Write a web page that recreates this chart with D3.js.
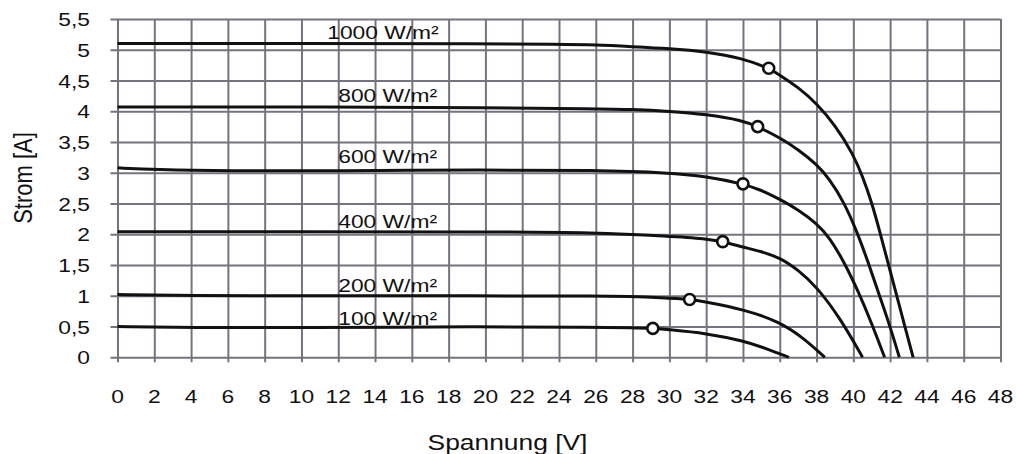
<!DOCTYPE html>
<html>
<head>
<meta charset="utf-8">
<script src="https://cdn.jsdelivr.net/npm/d3@7"></script>
<style>
  html, body { margin: 0; padding: 0; background: #fff; }
  svg { display: block; }
  text { font-family: "Liberation Sans", Arial, Helvetica, sans-serif; fill: #111; }
</style>
</head>
<body>
<svg id="chart" width="1016" height="454"></svg>
<script>
// ---------- data ----------
const xTicks = [0,2,4,6,8,10,12,14,16,18,20,22,24,26,28,30,32,34,36,38,40,42,44,46,48];
const yTicks = [0,0.5,1,1.5,2,2.5,3,3.5,4,4.5,5,5.5];
const yTickLabels = ["0","0,5","1","1,5","2","2,5","3","3,5","4","4,5","5","5,5"];
const xTitle = "Spannung [V]";
const yTitle = "Strom [A]";

const seriesNames = ["1000 W/m²","800 W/m²","600 W/m²","400 W/m²","200 W/m²","100 W/m²"];

const v1000 = [0,10,20,24,26,28,30,32,34,35.4,36,37,38,39,40,40.5,41.0,41.45,41.9,42.35,42.8,43.25];
const i1000 = [5.1,5.1,5.1,5.09,5.08,5.05,5.02,4.97,4.86,4.7,4.59,4.39,4.13,3.78,3.3,2.94,2.52,2.03,1.52,1.01,0.5,0];

const v800 = [0,12,20,26,28,30,32,34,34.8,36,37,38,38.7,39.5,40.2,40.8,41.4,42.0,42.5];
const i800 = [4.07,4.07,4.06,4.04,4.03,4.0,3.95,3.85,3.75,3.57,3.38,3.14,2.9,2.52,2.04,1.55,1.02,0.5,0];

const v600 = [0,2,6,12,20,26,30,32,34,35,36,37,38,38.7,39.5,40.3,41.0,41.7];
const i600 = [3.08,3.05,3.03,3.03,3.05,3.04,3.0,2.94,2.82,2.72,2.57,2.4,2.18,1.95,1.55,1.05,0.55,0];

const v400 = [0,10,20,26,30,32,32.9,34,35,36,37,38,39.3,40.5];
const i400 = [2.04,2.04,2.04,2.03,1.97,1.93,1.88,1.79,1.72,1.62,1.42,1.15,0.63,0];

const v200 = [0,4,10,20,26,30,31.1,32,34,36,37.3,38.45];
const i200 = [1.02,1.0,1.0,1.0,1.0,0.97,0.94,0.9,0.78,0.58,0.31,0];

const v100 = [0,4,10,20,26,28,29.1,30,32,34,35.3,36.5];
const i100 = [0.5,0.48,0.48,0.5,0.49,0.48,0.47,0.45,0.39,0.27,0.14,0];

// maximum power points
const mppV = [35.4,34.8,34.0,32.9,31.1,29.1];
const mppI = [4.7,3.75,2.82,1.88,0.94,0.47];

// ---------- layout ----------
const svg = d3.select("#chart");
const plotLeft = 117.5, plotRight = 1000.5, plotTop = 19, plotBottom = 357.3;
const x = d3.scaleLinear().domain([0,48]).range([plotLeft,plotRight]);
const y = d3.scaleLinear().domain([0,5.5]).range([plotBottom,plotTop]);
const gridColor = "#77727f";
const SX = 1.2; // horizontal stretch of the reference's lettering

const volts = [v1000,v800,v600,v400,v200,v100];
const amps  = [i1000,i800,i600,i400,i200,i100];
const series = seriesNames.map((name,k) => ({
  name,
  pts: volts[k].map((v,j) => [v, amps[k][j]])
}));

// grid (via axes with full-length ticks)
const gx = svg.append("g").attr("transform",`translate(0,${plotBottom})`)
  .call(d3.axisBottom(x).tickValues(xTicks).tickSize(0).tickFormat(""));
gx.select(".domain").remove();
gx.selectAll("line").attr("stroke",gridColor).attr("stroke-width",2)
  .attr("y1",5).attr("y2",-(plotBottom-plotTop));

const gy = svg.append("g").attr("transform",`translate(${plotLeft},0)`)
  .call(d3.axisLeft(y).tickValues(yTicks).tickSize(0).tickFormat(""));
gy.select(".domain").remove();
gy.selectAll("line").attr("stroke",gridColor).attr("stroke-width",2)
  .attr("x1",-7).attr("x2",plotRight-plotLeft);

// tick labels
svg.append("g").selectAll("text").data(xTicks).join("text")
  .attr("transform", d => `translate(${x(d)},402.5) scale(${SX},1)`)
  .attr("text-anchor","middle").attr("font-size",19).text(d => d);

svg.append("g").selectAll("text").data(yTicks).join("text")
  .attr("transform", d => `translate(90,${y(d)+7}) scale(${SX},1)`)
  .attr("text-anchor","end").attr("font-size",19).text((d,i) => yTickLabels[i]);

// axis titles
svg.append("text")
  .attr("transform",`translate(507.5,450) scale(${SX},1)`)
  .attr("text-anchor","middle").attr("font-size",22).text(xTitle);
svg.append("text")
  .attr("transform",`translate(32,178) scale(${SX},1) rotate(-90)`)
  .attr("text-anchor","middle").attr("font-size",22).text(yTitle);

// curves
const line = d3.line().x(d => x(d[0])).y(d => y(d[1])).curve(d3.curveBasis);
svg.append("g").selectAll("path").data(series).join("path")
  .attr("d", d => line(d.pts))
  .attr("fill","none").attr("stroke","#111").attr("stroke-width",3)
  .attr("stroke-linecap","butt");

// curve labels
const labelV = [11.4,12.0,12.0,12.0,12.0,12.0];
const labelGap = [5,5,5,4,3,1.5];
svg.append("g").selectAll("text").data(series).join("text")
  .attr("transform",(d,k) => `translate(${x(labelV[k])},${y(d.pts[0][1]) - labelGap[k]}) scale(${SX},1)`)
  .attr("font-size",19).text(d => d.name);

// MPP markers
svg.append("g").selectAll("circle").data(mppV).join("circle")
  .attr("cx", d => x(d)).attr("cy",(d,i) => y(mppI[i])).attr("r",5.5)
  .attr("fill","#fff").attr("stroke","#111").attr("stroke-width",2.6);
</script>
</body>
</html>
